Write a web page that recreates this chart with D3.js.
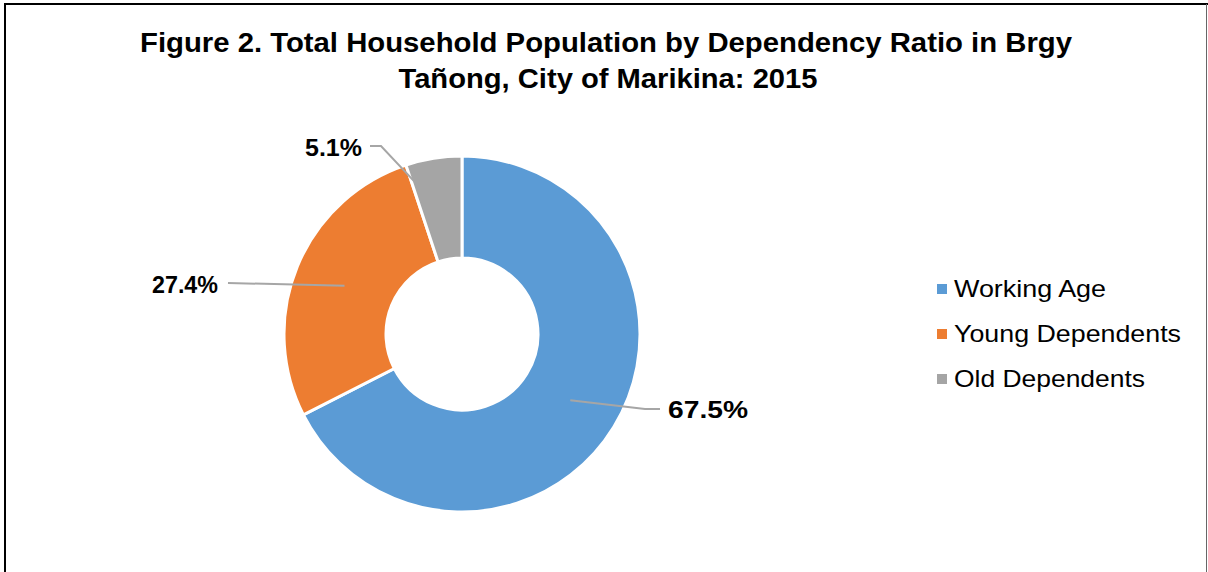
<!DOCTYPE html>
<html><head><meta charset="utf-8">
<script src="https://cdn.jsdelivr.net/npm/d3@7"></script>
<style>html,body{margin:0;padding:0;background:#fff;}svg{display:block;}</style>
</head><body>
<svg id="chart" width="1208" height="572"></svg>
<script>
const categories = ["Working Age", "Young Dependents", "Old Dependents"];
const values = [67.5, 27.4, 5.1];
const labels = ["67.5%", "27.4%", "5.1%"];
const colors = ["#5B9BD5", "#ED7D31", "#A5A5A5"];
const titleLines = ["Figure 2. Total Household Population by Dependency Ratio in Brgy", "Tañong, City of Marikina: 2015"];

const svg = d3.select("#chart");
const W = 1208, H = 572;
svg.append("rect").attr("width", W).attr("height", H).attr("fill", "#fff");

// border
svg.append("line").attr("x1", 4).attr("x2", 1208).attr("y1", 4).attr("y2", 4).attr("stroke", "#000").attr("stroke-width", 2);
svg.append("line").attr("x1", 5).attr("x2", 5).attr("y1", 3).attr("y2", H).attr("stroke", "#000").attr("stroke-width", 2);
svg.append("line").attr("x1", 1206.5).attr("x2", 1206.5).attr("y1", 4).attr("y2", H).attr("stroke", "#666").attr("stroke-width", 1);

const font = "'Liberation Sans', Arial, sans-serif";
// horizontal stretch helper: fit text width to target (style only)
function stretch(sel, target) {
  sel.attr("textLength", target).attr("lengthAdjust", "spacingAndGlyphs");
}

// title
const tY = [52, 88];
const tW = [932, 419];
titleLines.forEach((t, i) => {
  const tx = svg.append("text").attr("x", 606 + (i ? 2 : 0)).attr("y", tY[i]).attr("text-anchor", "middle")
    .attr("font-family", font).attr("font-weight", "bold").attr("font-size", 27).attr("fill", "#000").text(t);
  stretch(tx, tW[i]);
});

// donut
const cx = 462, cy = 334, rOut = 178, rIn = 76;
const pie = d3.pie().sort(null).value(d => d)(values);
const arc = d3.arc().innerRadius(rIn).outerRadius(rOut);
const g = svg.append("g").attr("transform", `translate(${cx},${cy})`);
g.selectAll("path").data(pie).join("path")
  .attr("d", arc).attr("fill", (d, i) => colors[i])
  .attr("stroke", "#fff").attr("stroke-width", 3).attr("stroke-linejoin", "miter");

// labels with leader lines (layout offsets)
const labelLayout = [
  { tx: 668, ty: 410, anchor: "start", w: 80, end: [[645, 409], [660, 409]] },
  { tx: 152, ty: 285, anchor: "start", w: 66, end: [[228, 283]] },
  { tx: 305, ty: 148, anchor: "start", w: 57, end: [[381, 146], [370, 146]] }
];
const midR = (rIn + rOut) / 2;
pie.forEach((d, i) => {
  const a = (d.startAngle + d.endAngle) / 2;
  let start;
  if (i === 2) {
    const ea = d.startAngle + 0.02, rr = 159;
    start = [Math.sin(ea) * rr, -Math.cos(ea) * rr];
  } else {
    start = [Math.sin(a) * midR, -Math.cos(a) * midR];
  }
  const pts = [start].concat(labelLayout[i].end.map(p => [p[0] - cx, p[1] - cy]));
  g.append("path").attr("d", d3.line()(pts)).attr("fill", "none")
    .attr("stroke", "#A6A6A6").attr("stroke-width", 2);
  const t = svg.append("text").attr("x", labelLayout[i].tx).attr("y", labelLayout[i].ty)
    .attr("dy", "0.35em").attr("text-anchor", labelLayout[i].anchor)
    .attr("font-family", font).attr("font-weight", "bold").attr("font-size", 23)
    .attr("fill", "#000").text(labels[i]);
  stretch(t, labelLayout[i].w);
});

// legend
const legend = svg.append("g").attr("transform", "translate(937,289)");
const rowH = 45;
const legW = [152, 227, 191];
categories.forEach((c, i) => {
  const row = legend.append("g").attr("transform", `translate(0,${i * rowH})`);
  row.append("rect").attr("x", 0).attr("y", -5).attr("width", 10).attr("height", 10).attr("fill", colors[i]);
  const t = row.append("text").attr("x", 17).attr("y", 0).attr("dy", "0.35em")
    .attr("font-family", font).attr("font-size", 24).attr("fill", "#000").text(c);
  stretch(t, legW[i]);
});
</script>
</body></html>
